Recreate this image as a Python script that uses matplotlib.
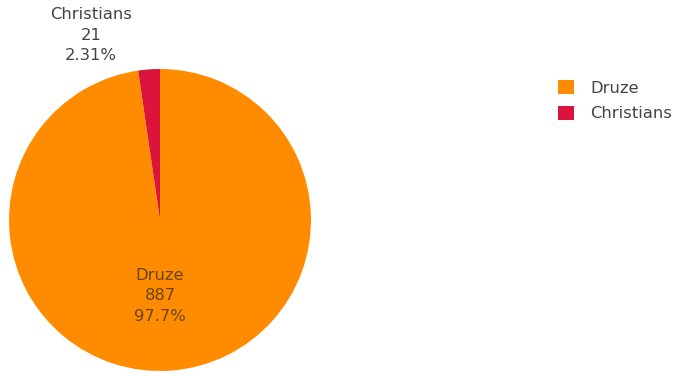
import matplotlib
matplotlib.use("Agg")
import matplotlib.pyplot as plt
from matplotlib.patches import Patch

plt.rcParams['font.family'] = ['DejaVu Sans']

labels = ["Druze", "Christians"]
counts = [887, 21]
percents = ["97.7%", "2.31%"]
colors = ["#FF8C00", "#DC143C"]

W, H = 678, 374
fig = plt.figure(figsize=(W / 100, H / 100), dpi=100)

cx, cy, r = 160, 220, 151
ax = fig.add_axes([(cx - r) / W, (H - (cy + r)) / H, 2 * r / W, 2 * r / H])
wedges, _ = ax.pie(counts, colors=colors, startangle=90, counterclock=False,
                   radius=1.0, wedgeprops=dict(linewidth=0))
ax.set_xlim(-1, 1)
ax.set_ylim(-1, 1)
ax.set_aspect('auto')
ax.axis('off')

# inside label for the large slice
fig.text(cx / W, 1 - 296 / H, f"{labels[0]}\n{counts[0]}\n{percents[0]}",
         ha='center', va='center', fontsize=11.8, color='#6a4418', linespacing=1.45)
# outside label for the small slice
fig.text(91 / W, 1 - 35 / H, f"{labels[1]}\n{counts[1]}\n{percents[1]}",
         ha='center', va='center', fontsize=11.8, color='#444444', linespacing=1.45)

handles = [Patch(facecolor=c, edgecolor='none') for c in colors]
fig.legend(handles, labels, loc='upper left', bbox_to_anchor=(543 / W, 1 - 65 / H),
           frameon=False, fontsize=11.8, labelcolor='#444444', handlelength=1.0,
           handleheight=1.0, handletextpad=1.0, labelspacing=0.6)

fig.savefig("out.png", dpi=100)
